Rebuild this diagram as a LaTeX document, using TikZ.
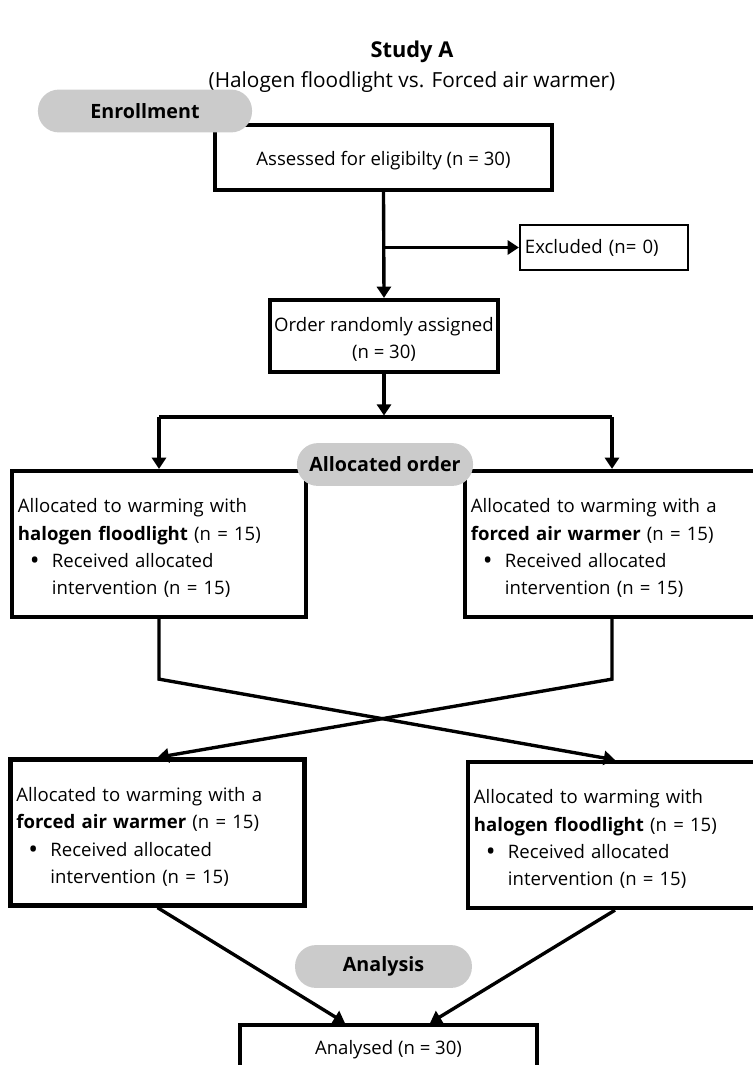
\documentclass[tikz,border=0pt]{standalone}
\usepackage{fontspec}
\setmainfont{Open Sans}
\usetikzlibrary{arrows.meta}

\definecolor{pillgray}{HTML}{CBCBCB}

\tikzset{
  box/.style={draw, line width=3pt, align=center, inner sep=1pt},
  thinbox/.style={draw, line width=1.5pt, align=left, inner sep=3pt},
  armbox/.style={draw, line width=3pt, minimum width=7.35cm, minimum height=3.65cm,
    text width=7.05cm, align=left, inner sep=2pt},
  pill/.style={fill=pillgray, rounded corners=0.52cm, minimum height=1.07cm,
    font=\fontsize{14}{16}\selectfont\bfseries},
  line/.style={line width=2.4pt},
  arrow/.style={line width=2.4pt, -{Triangle[width=10pt,length=8pt]}}
}

\newcommand{\recv}{\hspace*{0.3cm}\makebox[0.55cm][l]{\raisebox{-1.6pt}{\scalebox{1.4}{\textbullet}}}Received allocated\\
  \hspace*{0.85cm}intervention (n = 15)}

\begin{document}
\begin{tikzpicture}[x=0.025cm, y=-0.025cm, font=\fontsize{13.2}{19.5}\selectfont]
  \useasboundingbox (0,0) rectangle (753,1065);

  % title
  \node[font=\fontsize{15.5}{18}\selectfont\bfseries] (title) at (412,52) {Study A};
  \node[font=\fontsize{14.8}{18}\selectfont] (subtitle) at (412,82)
    {(Halogen floodlight vs. Forced air warmer)};

  % enrollment
  \node[box, minimum width=8.425cm, minimum height=1.625cm] (assess) at (383.5,157.5)
    {\rule{0pt}{15pt}Assessed for eligibilty (n = 30)};
  \node[thinbox, minimum width=4.2cm, minimum height=1.125cm, text width=3.95cm] (excl)
    at (604,247.5) {Excluded (n= 0)};
  \node[box, minimum width=5.7cm, minimum height=1.8cm] (order) at (384,336)
    {\rule{0pt}{15pt}Order randomly assigned\\(n = 30)};

  \draw[arrow] (assess.south) -- (order.north);
  \draw[arrow] (assess.south |- excl.west) -- (excl.west);

  % allocation
  \node[armbox] (halo1) at (159,544)
    {\rule{0pt}{16pt}Allocated to warming with\\ \textbf{halogen floodlight} (n = 15)\\ \recv};
  \node[armbox] (air1) at (612,544)
    {\rule{0pt}{16pt}Allocated to warming with a\\ \textbf{forced air warmer} (n = 15)\\ \recv};

  \coordinate (split) at (384,417);
  \draw[arrow] (order.south) -- ([yshift=1pt]split);
  \draw[line] (halo1.north |- split) -- (air1.north |- split);
  \draw[arrow] (halo1.north |- split) -- (halo1.north);
  \draw[arrow] (air1.north |- split) -- (air1.north);

  % crossover
  \node[armbox] (air2) at (157.5,832.5)
    {\rule{0pt}{16pt}Allocated to warming with a\\ \textbf{forced air warmer} (n = 15)\\ \recv};
  \node[armbox] (halo2) at (615,835)
    {\rule{0pt}{16pt}Allocated to warming with\\ \textbf{halogen floodlight} (n = 15)\\ \recv};

  \draw[arrow] (halo1.south) -- ++(0,60) -- (halo2.north);
  \draw[arrow] (air1.south) -- ++(0,60) -- (air2.north);

  % analysis
  \node[box, minimum width=7.425cm, minimum height=1.25cm] (analysed) at (388.5,1050)
    {Analysed (n = 30)};
  \draw[arrow] (air2.south) -- ([xshift=-1.09cm]analysed.north);
  \draw[arrow] (halo2.south) -- ([xshift=1.04cm]analysed.north);

  % stage labels
  \node[pill, minimum width=5.35cm] (enrol) at (145,111) {Enrollment};
  \node[pill, minimum width=4.4cm] (alloc) at (385,464.5) {Allocated order};
  \node[pill, minimum width=4.42cm] (analysis) at (383.5,966.5) {Analysis};
\end{tikzpicture}
\end{document}
